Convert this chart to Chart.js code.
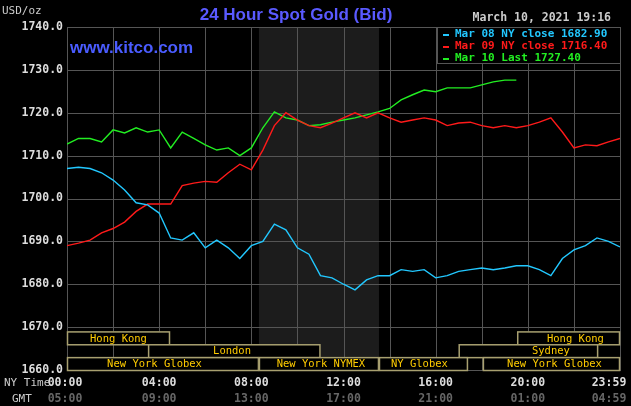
<!DOCTYPE html><html><head><style>html,body{margin:0;background:#000}</style>
<script src="https://cdn.jsdelivr.net/npm/chart.js@4"></script></head><body>
<canvas id="c" width="631" height="406" style="width:631px;height:406px"></canvas>
<script>
const hours=[0,0.5,1,1.5,2,2.5,3,3.5,4,4.5,5,5.5,6,6.5,7,7.5,8,8.5,9,9.5,10,10.5,11,11.5,12,12.5,13,13.5,14,14.5,15,15.5,16,16.5,17,17.5,18,18.5,19,19.5,20,20.5,21,21.5,22,22.5,23,23.5,24];
const mar08=[1707,1707.3,1707,1706,1704.3,1702,1699,1698.5,1696.6,1690.8,1690.3,1692,1688.5,1690.3,1688.5,1686,1689,1690,1694,1692.7,1688.5,1687,1682,1681.5,1680,1678.7,1681,1682,1682,1683.4,1683,1683.4,1681.5,1682,1683,1683.4,1683.8,1683.4,1683.8,1684.3,1684.3,1683.4,1682,1686,1688,1689,1690.8,1690,1688.7];
const mar09=[1689,1689.6,1690.3,1692,1693,1694.5,1697,1698.7,1698.7,1698.7,1703,1703.6,1704,1703.8,1706,1708,1706.7,1711.3,1717,1720,1718.3,1717,1716.5,1717.6,1718.8,1720,1718.8,1720,1718.8,1717.8,1718.3,1718.8,1718.3,1717,1717.6,1717.8,1717,1716.5,1717,1716.5,1717,1717.8,1718.8,1715.5,1711.8,1712.5,1712.3,1713.2,1714];
const mar10=[1712.7,1714,1714,1713.2,1716,1715.3,1716.5,1715.5,1716,1711.8,1715.5,1714,1712.5,1711.3,1711.8,1710,1711.8,1716.5,1720.2,1718.8,1718.3,1717,1717.2,1717.8,1718.3,1718.8,1719.5,1720.2,1721,1723,1724.2,1725.3,1724.9,1725.8,1725.8,1725.8,1726.5,1727.2,1727.6,1727.6];
const yTicks=[1660,1670,1680,1690,1700,1710,1720,1730,1740];
const nyLabels=["00:00","04:00","08:00","12:00","16:00","20:00","23:59"];
const gmtLabels=["05:00","09:00","13:00","17:00","21:00","01:00","04:59"];
const sessions=[
 {name:"Hong Kong",from:0,to:4.47,row:0,tx:1.0},
 {name:"Hong Kong",from:19.54,to:24,row:0,tx:20.83},
 {name:"London",from:3.52,to:11,row:1,tx:6.34},
 {name:"Sydney",from:17,to:23.05,row:1,tx:20.18},
 {name:"New York Globex",from:0,to:8.33,row:2,tx:1.74},
 {name:"New York NYMEX",from:8.33,to:13.54,row:2,tx:9.1},
 {name:"NY Globex",from:13.54,to:17.4,row:2,tx:14.06},
 {name:"New York Globex",from:18.05,to:24,row:2,tx:19.1}];
const mk=(d)=>d.map((v,i)=>({x:hours[i],y:v}));
const MONO='"DejaVu Sans Mono", monospace';
const deco={id:'deco',
 beforeDatasetsDraw(ch){const {ctx,chartArea:a,scales:{x,y}}=ch;
  ctx.fillStyle='#1c1c1c';ctx.fillRect(x.getPixelForValue(8.33),a.top,x.getPixelForValue(13.54)-x.getPixelForValue(8.33),a.bottom-a.top);
  ctx.strokeStyle='#555';ctx.lineWidth=1;
  for(let h=0;h<=24;h+=2){const px=Math.round(x.getPixelForValue(h))+0.5;ctx.beginPath();ctx.moveTo(px,a.top);ctx.lineTo(px,a.bottom);ctx.stroke();}
  yTicks.forEach(v=>{const py=Math.round(y.getPixelForValue(v))+0.5;ctx.beginPath();ctx.moveTo(a.left,py);ctx.lineTo(a.right,py);ctx.stroke();});
 },
 afterDatasetsDraw(ch){const {ctx,chartArea:a,scales:{x,y}}=ch;
  ctx.save();
  const rh=(y.getPixelForValue(1660)-y.getPixelForValue(1670))/3*0.9;
  const base=y.getPixelForValue(1660);
  ctx.font='10.5px '+MONO;ctx.textBaseline='middle';ctx.textAlign='left';
  sessions.forEach(s=>{const top=base-rh*(3-s.row);const x0=x.getPixelForValue(s.from),x1=x.getPixelForValue(s.to);
   ctx.fillStyle='#000';ctx.fillRect(x0,top,x1-x0,rh);
   ctx.strokeStyle='#a8a070';ctx.lineWidth=1.5;ctx.strokeRect(x0+0.5,top+0.5,x1-x0-1,rh);
   ctx.fillStyle='#ffcc00';ctx.fillText(s.name,x.getPixelForValue(s.tx),top+rh/2+1);});
  ctx.font='bold 11.5px '+MONO;ctx.textAlign='center';
  const hs=[0,4,8,12,16,20,24];
  hs.forEach((h,i)=>{const px=x.getPixelForValue(h)-(i==0?2:0)-(i==6?11:0);ctx.fillStyle='#ddd';ctx.fillText(nyLabels[i],px,a.bottom+13);ctx.fillStyle='#666';ctx.fillText(gmtLabels[i],px,a.bottom+29);});
  ctx.font='11px '+MONO;ctx.fillStyle='#ccc';ctx.textAlign='left';ctx.fillText('NY Time',4,a.bottom+13);ctx.fillText('GMT',12,a.bottom+29);
  ctx.fillText('USD/oz',2,11);
  ctx.font='bold 11.5px '+MONO;ctx.textAlign='right';ctx.fillStyle='#ddd';
  yTicks.forEach(v=>ctx.fillText(v.toFixed(1),a.left-4,y.getPixelForValue(v)));
  ctx.textAlign='center';ctx.font='bold 17px "Liberation Sans", Arial';ctx.fillStyle='#5a5aff';ctx.fillText('24 Hour Spot Gold (Bid)',296,15);
  ctx.textAlign='left';ctx.fillStyle='#4a5cff';ctx.fillText('www.kitco.com',70,48);
  ctx.font='bold 11.5px '+MONO;ctx.fillStyle='#ccc';ctx.textAlign='right';ctx.fillText('March 10, 2021 19:16',611,18);
  ctx.fillStyle='#000';ctx.fillRect(437,28,182,35);
  ctx.strokeStyle='#555';ctx.lineWidth=1;ctx.strokeRect(437.5,27.5,183,36);
  ctx.textAlign='left';ctx.font='bold 11px '+MONO;
  [['#22c8ff','Mar 08 NY close 1682.90'],['#ff1a1a','Mar 09 NY close 1716.40'],['#22ee22','Mar 10 Last 1727.40']].forEach((l,i)=>{ctx.fillStyle=l[0];ctx.fillRect(443,34+i*12,6,2);ctx.fillText(l[1],455,34+i*12);});
  ctx.restore();}};
new Chart(document.getElementById('c'),{type:'line',
 data:{datasets:[
  {data:mk(mar08),borderColor:'#22c8ff'},
  {data:mk(mar09),borderColor:'#ff1a1a'},
  {data:mk(mar10),borderColor:'#22ee22'}]},
 options:{responsive:false,animation:false,devicePixelRatio:1,
  layout:{padding:{top:27,right:11,left:0,bottom:0}},
  elements:{point:{radius:0},line:{borderWidth:1.4,tension:0}},
  plugins:{legend:{display:false},tooltip:{enabled:false}},
  scales:{
   x:{type:'linear',min:0,max:24,ticks:{display:false},grid:{display:false},border:{color:'#555'},afterFit(s){s.height=36;}},
   y:{min:1660,max:1740,ticks:{display:false,stepSize:10},grid:{display:false},border:{color:'#555'},afterFit(s){s.width=67;}}}},
 plugins:[deco]});
</script></body></html>
